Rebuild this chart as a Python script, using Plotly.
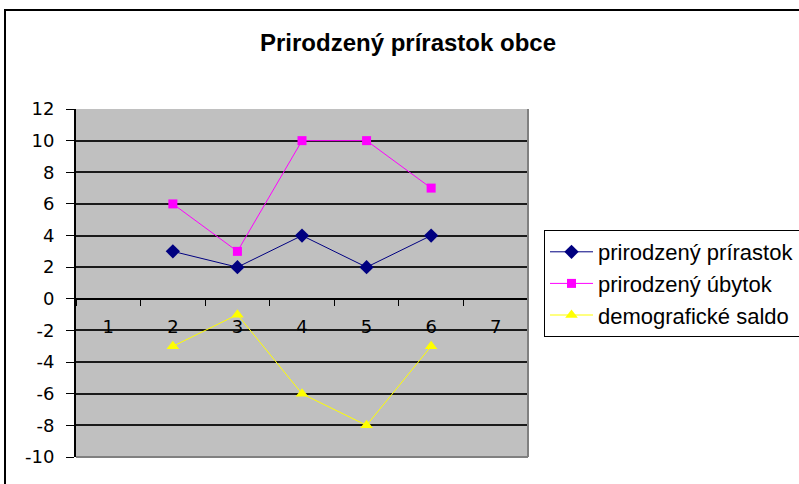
import plotly.graph_objects as go

categories = ["1", "2", "3", "4", "5", "6", "7"]
x_pts = ["2", "3", "4", "5", "6"]
prirastok = [3, 2, 4, 2, 4]
ubytok = [6, 3, 10, 10, 7]
saldo = [-3, -1, -6, -8, -3]
y_ticks = list(range(-10, 13, 2))
y_tick_labels = [str(v) for v in y_ticks]

W, H = 799, 484
L, R, T, B = 76, 271, 109, 27
pw, ph = W - L - R, H - T - B

def px_x(px):
    return (px - L) / pw

def px_y(py):
    return (H - B - py) / ph

FONT = "Arial, Liberation Sans, sans-serif"
TICKFONT = "DejaVu Sans, Arial, sans-serif"

fig = go.Figure()
fig.add_trace(go.Scatter(x=x_pts, y=prirastok, name="prirodzený prírastok", mode="lines+markers",
                         line=dict(color="#000080", width=1),
                         marker=dict(symbol="diamond", size=11, color="#000080")))
fig.add_trace(go.Scatter(x=x_pts, y=ubytok, name="prirodzený úbytok", mode="lines+markers",
                         line=dict(color="#FF00FF", width=1),
                         marker=dict(symbol="square", size=9, color="#FF00FF")))
fig.add_trace(go.Scatter(x=x_pts, y=saldo, name="demografické saldo", mode="lines+markers",
                         line=dict(color="#FFFF00", width=1),
                         marker=dict(symbol="triangle-up", size=11, color="#FFFF00")))

ymin, ymax = -10, 12
zero_pos = (0 - ymin) / (ymax - ymin)

fig.update_layout(
    width=W, height=H,
    margin=dict(l=L, r=R, t=T, b=B, autoexpand=False),
    paper_bgcolor="white",
    plot_bgcolor="#C0C0C0",
    font=dict(family=FONT, size=19, color="black"),
    title=dict(text="<b>Prirodzený prírastok obce</b>", x=408 / W, xref="container", xanchor="center",
               y=1 - 43 / H, yref="container", yanchor="middle",
               font=dict(size=24, family=FONT, color="black")),
    xaxis=dict(type="category", categoryorder="array", categoryarray=categories,
               tickvals=categories, ticktext=categories,
               range=[-0.5, len(categories) - 0.5],
               anchor="free", position=zero_pos,
               showline=True, linecolor="black", linewidth=2,
               ticks="outside", tickson="boundaries", ticklen=6, tickcolor="black", tickwidth=1,
               ticklabelstandoff=12,
               showgrid=False, zeroline=False,
               tickfont=dict(size=18, family=TICKFONT)),
    yaxis=dict(range=[ymin, ymax], tickvals=y_ticks, ticktext=y_tick_labels,
               showgrid=True, gridcolor="#1a1a1a", gridwidth=2,
               zeroline=False, showline=True, linecolor="black", linewidth=2,
               ticks="outside", ticklen=8, tickcolor="black", ticklabelstandoff=8,
               tickfont=dict(size=18, family=TICKFONT)),
    legend=dict(x=px_x(544), y=px_y(230), xanchor="left", yanchor="top",
                bordercolor="black", borderwidth=1, bgcolor="white",
                font=dict(size=22), tracegroupgap=0, itemwidth=43),
    showlegend=True,
)

# plot-area 3D border (right and bottom darker)
fig.add_shape(type="line", xref="paper", yref="paper", x0=1, x1=1, y0=0, y1=1,
              line=dict(color="#808080", width=2))
fig.add_shape(type="line", xref="paper", yref="paper", x0=0, x1=1, y0=0, y1=0,
              line=dict(color="#808080", width=2))
# outer chart frame
fig.add_shape(type="rect", xref="paper", yref="paper",
              x0=px_x(5), x1=px_x(900), y0=px_y(600), y1=px_y(10),
              line=dict(color="black", width=2), layer="below")

fig.write_html("out.html", config={"displayModeBar": False},
               post_script="document.body.style.margin='0';document.body.style.overflow='hidden';")
